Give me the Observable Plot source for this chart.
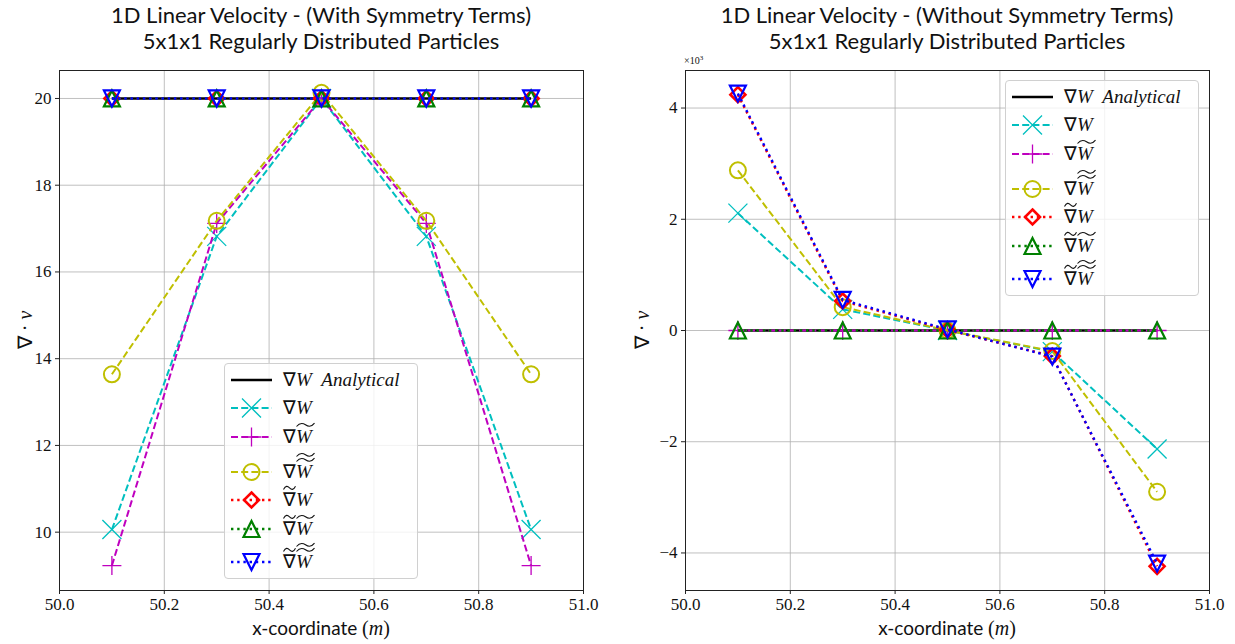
<!DOCTYPE html>
<html><head><meta charset="utf-8">
<script src="https://cdn.jsdelivr.net/npm/d3@7"></script>
<script src="https://cdn.jsdelivr.net/npm/@observablehq/plot@0.6"></script>
<style>
body{margin:0;background:#fff;}
#root{position:relative;width:1235px;height:644px;overflow:hidden;background:#fff;}
.abs{position:absolute;}
.title{font-family:Lato;font-size:22px;line-height:26px;text-align:center;color:#111;white-space:nowrap;transform:translateX(-50%);}
.xlab{font-size:19px;white-space:nowrap;transform:translate(-50%,-50%);color:#111;}
.sans{font-family:Lato;}
.serif{font-family:"Liberation Serif";}
.legend{border:1px solid #d0d0d0;border-radius:4px;background:rgba(255,255,255,0.8);box-sizing:border-box;}
.lab{font-family:"Liberation Serif";font-size:19px;white-space:nowrap;line-height:20px;color:#111;}
.acc{position:relative;display:inline-block;}
.acc svg{position:absolute;left:0;overflow:visible;}
svg text{font-family:"Liberation Serif";}
</style></head>
<body><div id="root"></div>
<script>
// ---------- data ----------
const xCoords = [50.1, 50.3, 50.5, 50.7, 50.9];
const xTicks = [50.0, 50.2, 50.4, 50.6, 50.8, 51.0];

// left panel: with symmetry terms
const withAnalytical = [20, 20, 20, 20, 20];
const withGradW      = [10.06, 16.82, 20.0, 16.82, 10.06];
const withGradWt     = [9.23, 17.12, 20.0, 17.12, 9.23];
const withGradWtt    = [13.64, 17.18, 20.13, 17.18, 13.64];
const withTGradW     = [20, 20, 20, 20, 20];
const withTGradWt    = [20, 20, 20, 20, 20];
const withTGradWtt   = [20, 20, 20, 20, 20];
const withYTicks = [10, 12, 14, 16, 18, 20];

// right panel: without symmetry terms (values x10^3)
const noAnalytical = [0, 0, 0, 0, 0];
const noGradW      = [2.11, 0.38, 0.0, -0.38, -2.13];
const noGradWt     = [0, 0, 0, 0, 0];
const noGradWtt    = [2.88, 0.42, 0.0, -0.37, -2.9];
const noTGradW     = [4.24, 0.53, 0.01, -0.46, -4.24];
const noTGradWt    = [0, 0, 0, 0, 0];
const noTGradWtt   = [4.26, 0.55, 0.02, -0.47, -4.19];
const noYTicks = [-4, -2, 0, 2, 4];

// ---------- symbols ----------
function sym(f){ return {draw(ctx, size){ f(ctx, Math.sqrt(size/Math.PI)); }}; }
const symX = sym((c,r)=>{c.moveTo(-r,-r);c.lineTo(r,r);c.moveTo(-r,r);c.lineTo(r,-r);});
const symPlus = sym((c,r)=>{c.moveTo(-r,0);c.lineTo(r,0);c.moveTo(0,-r);c.lineTo(0,r);});
const symCircle = sym((c,r)=>{c.moveTo(r,0);c.arc(0,0,r,0,2*Math.PI);c.closePath();});
const symDiamond = sym((c,r)=>{c.moveTo(0,-r);c.lineTo(r,0);c.lineTo(0,r);c.lineTo(-r,0);c.closePath();});
const symTriUp = sym((c,r)=>{c.moveTo(0,-r);c.lineTo(r,r);c.lineTo(-r,r);c.closePath();});
const symTriDown = sym((c,r)=>{c.moveTo(0,r);c.lineTo(r,-r);c.lineTo(-r,-r);c.closePath();});

const styles = [
  {color:"#000000", lw:2.6, dash:null, symbol:null},
  {color:"#00bfbf", lw:2, dash:"7,3.2", symbol:symX, r:9.5, mew:1.3},
  {color:"#bf00bf", lw:2, dash:"7,3.2", symbol:symPlus, r:9.5, mew:1.3},
  {color:"#bfbf00", lw:2, dash:"7,3.2", symbol:symCircle, r:8, mew:2},
  {color:"#ff0000", lw:2.4, dash:"2.4,3.8", symbol:symDiamond, r:7.5, mew:2.6},
  {color:"#008000", lw:2.4, dash:"2.4,3.8", symbol:symTriUp, r:8, mew:2.2},
  {color:"#0000ff", lw:2.4, dash:"2.4,3.8", symbol:symTriDown, r:8, mew:2.2},
];

function panel(series, yDomain, yTicks, yFmt, left, width, mL, mR){
  const marks = [
    Plot.gridX(xTicks, {stroke:"#b0b0b0", strokeOpacity:1, strokeWidth:0.8}),
    Plot.gridY(yTicks, {stroke:"#b0b0b0", strokeOpacity:1, strokeWidth:0.8}),
  ];
  series.forEach((vals, i) => {
    const st = styles[i];
    const data = xCoords.map((x, j) => ({x, y: vals[j]}));
    marks.push(Plot.line(data, {x:"x", y:"y", stroke:st.color, strokeWidth:st.lw, strokeDasharray:st.dash, strokeLinecap:"butt", strokeLinejoin:"round"}));
    if (st.symbol) marks.push(Plot.dot(data, {x:"x", y:"y", symbol:st.symbol, r:st.r, stroke:st.color, strokeWidth:st.mew, fill:"none"}));
  });
  marks.push(Plot.frame({stroke:"#222", strokeWidth:1}));
  const txt = {fontFamily:"Liberation Serif", fontSize:17, fill:"#111"};
  marks.push(Plot.axisX(xTicks, {tickFormat:d3.format(".1f"), tickSize:4, tickPadding:3, label:null, stroke:"#222", ...txt}));
  marks.push(Plot.axisY(yTicks, {tickFormat:yFmt, tickSize:4, tickPadding:4, label:null, stroke:"#222", ...txt}));
  const p = Plot.plot({
    width, height:644, marginTop:70, marginBottom:54, marginLeft:mL, marginRight:mR,
    x:{domain:[50,51]}, y:{domain:yDomain},
    style:{fontFamily:"Liberation Serif", fontSize:"17px", color:"#111", background:"transparent"},
    marks
  });
  p.style.position = "absolute"; p.style.left = left + "px"; p.style.top = "0px";
  return p;
}

const root = document.getElementById("root");
root.appendChild(panel([withAnalytical, withGradW, withGradWt, withGradWtt, withTGradW, withTGradWt, withTGradWtt],
  [8.655, 20.645], withYTicks, d3.format("d"), 0, 617, 59, 34));
root.appendChild(panel([noAnalytical, noGradW, noGradWt, noGradWtt, noTGradW, noTGradWt, noTGradWtt],
  [-4.675, 4.675], noYTicks, d3.format("d"), 617, 618, 68, 26));

// ---------- text ----------
function add(html, cls, x, y, extra){ const d=document.createElement("div"); d.className="abs "+cls; d.style.left=x+"px"; d.style.top=y+"px"; if(extra) d.style.cssText+=extra; d.innerHTML=html; root.appendChild(d); return d; }
add("1D Linear Velocity - (With Symmetry Terms)<br>5x1x1 Regularly Distributed Particles","title",321,2);
add("1D Linear Velocity - (Without Symmetry Terms)<br>5x1x1 Regularly Distributed Particles","title",947,2);
const xl = '<span class="sans">x-coordinate</span> <span class="serif" style="font-size:20px">(<i>m</i>)</span>';
add(xl,"xlab",321,628); add(xl,"xlab",947,628);
const yl = '<span class="serif" style="font-size:20px">∇ · <i>v</i></span>';
add(yl,"xlab",25,330,"transform:translate(-50%,-50%) rotate(-90deg);");
add(yl,"xlab",642,330,"transform:translate(-50%,-50%) rotate(-90deg);");
add('<span class="serif">×10<sup style="font-size:7px">3</sup></span>',"",684,54,"font-size:10px;color:#111;");

// ---------- legend ----------
function tilde(w, top){ return `<svg width="${w}" height="6" style="top:${top}px"><path d="M0.5,4.5 C${w*0.2},0.5 ${w*0.35},0.8 ${w*0.5},2.8 S${w*0.8},5.5 ${w-0.5},1.2" fill="none" stroke="#111" stroke-width="1.1"/></svg>`; }
function acc(inner, n, w){ let t=""; for(let k=0;k<n;k++) t+=tilde(w, -5-5*k); return `<span class="acc">${inner}${t}</span>`; }
const nab = "∇", W = "<i>W</i>";
const labels = [
  `${nab}${W}&nbsp;&nbsp;<i>Analytical</i>`,
  `${nab}${W}`,
  `${nab}${acc(W,1,19)}`,
  `${nab}${acc(W,2,19)}`,
  `${acc(nab,1,13)}${W}`,
  `${acc(nab,1,13)}${acc(W,1,19)}`,
  `${acc(nab,1,13)}${acc(W,2,19)}`,
];
const rowY = [15.5, 43.8, 72.5, 107.7, 136, 165, 198];
function legend(x, y){
  const box = add("", "legend", x, y, "width:194px;height:216px;");
  labels.forEach((lab, i) => {
    const st = styles[i];
    const cy = rowY[i];
    let s = `<svg width="60" height="24" style="position:absolute;left:0;top:${cy-12}px;overflow:visible">`;
    s += `<line x1="6" x2="47" y1="12" y2="12" stroke="${st.color}" stroke-width="${st.lw}" ${st.dash?`stroke-dasharray="${st.dash}"`:""}/>`;
    if (st.symbol){ const p=d3.path(); st.symbol.draw(p, st.r*st.r*Math.PI); s += `<path transform="translate(26.5,12)" d="${p}" fill="none" stroke="${st.color}" stroke-width="${st.mew}"/>`; }
    s += `</svg>`;
    box.insertAdjacentHTML("beforeend", s);
    const l = document.createElement("div"); l.className="abs lab"; l.style.left="58px"; l.style.top=(cy-10)+"px"; l.innerHTML=lab; box.appendChild(l);
  });
}
legend(224, 363);
legend(1005, 80);
</script></body></html>
